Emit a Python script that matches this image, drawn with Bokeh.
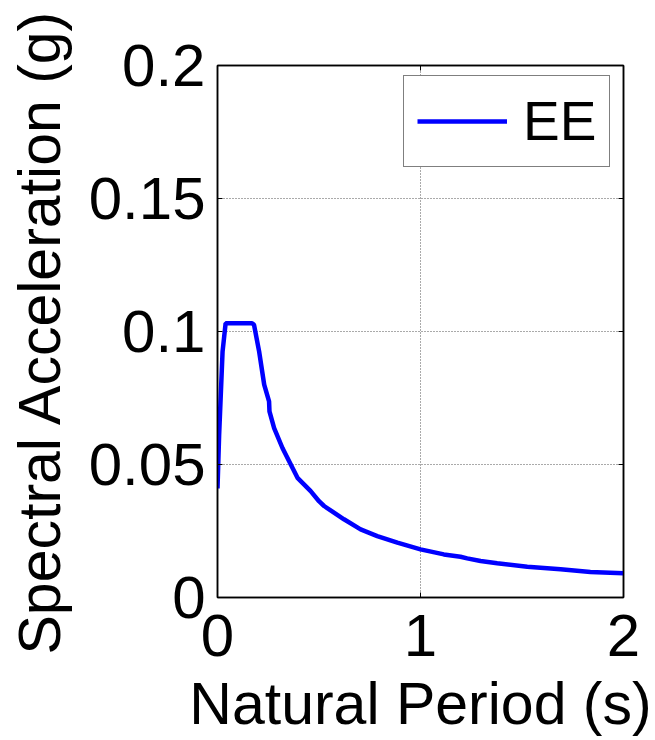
from bokeh.plotting import figure
from bokeh.models import Range1d, FixedTicker, LinearAxis, Legend, LegendItem
from bokeh.embed import file_html
from bokeh.resources import INLINE

# ---- data ----
period = [0.0, 0.008, 0.025, 0.04, 0.17, 0.18, 0.205, 0.23, 0.254, 0.256, 0.279,
          0.32, 0.361, 0.394, 0.459, 0.5, 0.525, 0.623, 0.705, 0.787, 0.886,
          1.0, 1.115, 1.197, 1.23, 1.296, 1.378, 1.526, 1.69, 1.837, 2.0]
sa = [0.041, 0.061, 0.0925, 0.1031, 0.1031, 0.1025, 0.0925, 0.080, 0.0737, 0.070, 0.0637,
      0.0562, 0.050, 0.045, 0.040, 0.0362, 0.0344, 0.0294, 0.0256, 0.0231, 0.0206,
      0.0181, 0.0162, 0.0153, 0.0147, 0.0137, 0.0129, 0.0116, 0.0106, 0.0096, 0.0091]
x_ticks = [0, 1, 2]
y_ticks = [0, 0.05, 0.1, 0.15, 0.2]
y_tick_labels = {0: "0", 0.05: "0.05", 0.1: "0.1", 0.15: "0.15", 0.2: "0.2"}
series_name = "EE"

FONT = "Liberation Sans"

p = figure(width=652, height=740, output_backend="svg", toolbar_location=None,
           x_range=Range1d(0, 2), y_range=Range1d(0, 0.2),
           min_border_left=217, min_border_top=65, min_border_right=29,
           min_border_bottom=143)
p.background_fill_color = "white"
p.border_fill_color = "white"
p.outline_line_color = "black"
p.outline_line_width = 1.5

r = p.line(period, sa, line_color="#0000ff", line_width=4.5)

for ax in (p.xaxis[0], p.yaxis[0]):
    ax.axis_line_color = "black"
    ax.axis_line_width = 1.5
    ax.major_tick_in = 5
    ax.major_tick_out = 0
    ax.minor_tick_line_color = None
    ax.major_label_text_font = FONT
    ax.major_label_text_font_size = "60px"
    ax.major_label_text_color = "black"
    ax.axis_label_text_font = FONT
    ax.axis_label_text_font_size = "59px"
    ax.axis_label_text_font_style = "normal"
    ax.axis_label_text_color = "black"

p.xaxis[0].ticker = FixedTicker(ticks=x_ticks)
p.yaxis[0].ticker = FixedTicker(ticks=y_ticks)
p.yaxis[0].major_label_overrides = y_tick_labels
p.xaxis[0].axis_label = "Natural Period (s)"
p.yaxis[0].axis_label = "Spectral Acceleration (g)"
p.xaxis[0].major_label_standoff = 17
p.yaxis[0].major_label_standoff = 12
p.xaxis[0].axis_label_standoff = 12
p.yaxis[0].axis_label_standoff = 13

# box ticks on top and right (labels not drawn)
top = LinearAxis(ticker=FixedTicker(ticks=x_ticks), major_label_text_color=None,
                 major_label_text_font_size="10px",
                 major_tick_in=5, major_tick_out=0, minor_tick_line_color=None,
                 axis_line_color="black", axis_line_width=1.5)
right = LinearAxis(ticker=FixedTicker(ticks=y_ticks), major_label_text_color=None,
                   major_label_text_font_size="10px",
                   major_tick_in=5, major_tick_out=0, minor_tick_line_color=None,
                   axis_line_color="black", axis_line_width=1.5)
p.add_layout(top, "above")
p.add_layout(right, "right")

p.xgrid.ticker = FixedTicker(ticks=x_ticks)
p.ygrid.ticker = FixedTicker(ticks=y_ticks)
for g in (p.xgrid[0], p.ygrid[0]):
    g.grid_line_color = "#555555"
    g.grid_line_width = 1
    g.grid_line_dash = "1 2"

legend = Legend(items=[LegendItem(label=series_name, renderers=[r])],
                location=(186, 430), orientation="vertical",
                label_text_font=FONT, label_text_font_size="55px",
                label_text_color="black",
                glyph_width=90, glyph_height=40, label_standoff=16,
                padding=13, margin=0, spacing=0,
                border_line_color="black", border_line_width=1.5,
                background_fill_color="white", background_fill_alpha=1)
p.add_layout(legend, "center")

open("out.html", "w").write(file_html(p, INLINE))
